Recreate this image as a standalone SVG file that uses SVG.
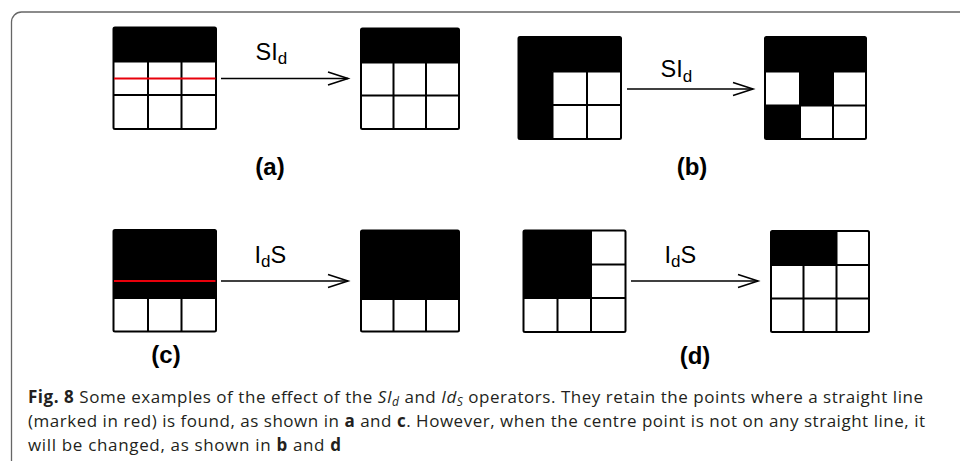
<svg xmlns="http://www.w3.org/2000/svg" width="960" height="461" viewBox="0 0 960 461">
<defs>
<style>
.frame{fill:none;stroke:#666;stroke-width:1.3}
.cell{fill:#000}
.grid{fill:none;stroke:#000;stroke-width:2}
.outer{fill:none;stroke:#000;stroke-width:2}
.red{stroke:#e8000b;stroke-width:2}
.conn{stroke:#000;stroke-width:1.6;fill:none}
.op{font-family:"Liberation Sans",Arial,sans-serif;font-size:23.5px;fill:#000}
.sub{font-size:17px}
.plab{font-family:"Liberation Sans",Arial,sans-serif;font-size:24px;font-weight:bold;fill:#000;text-anchor:middle}
.cap{font-family:"Open Sans","Noto Sans",sans-serif;font-size:17px;fill:#231f20}
.b{font-weight:bold}
.i{font-style:italic}
</style>
<marker id="chev" markerUnits="userSpaceOnUse" markerWidth="24" markerHeight="18" refX="21" refY="8" orient="auto">
<path d="M1,1.5 L21,8 L1,14.5" fill="none" stroke="#000" stroke-width="1.6"/>
</marker>
</defs>
<rect width="960" height="461" fill="#fff"/>
<path class="frame" d="M11.5 461 V22 A10 10 0 0 1 21.5 12 H960"/>

<g id="a-left">
<rect class="cell" x="113.5" y="27.5" width="102.5" height="34"/>
<path class="grid" d="M148 27.5 V129 M181.5 27.5 V129 M113.5 61.5 H216 M113.5 95 H216"/>
<rect class="outer" x="113.5" y="27.5" width="102.5" height="101.5" rx="1.5"/>
<line class="red" x1="114" y1="78.5" x2="215.5" y2="78.5"/>
</g>
<g id="a-right">
<rect class="cell" x="361" y="28.5" width="98" height="34"/>
<path class="grid" d="M393.5 28.5 V129 M426 28.5 V129 M361 62.5 H459 M361 95.5 H459"/>
<rect class="outer" x="361" y="28.5" width="98" height="100.5" rx="1.5"/>
</g>
<g id="b-left">
<rect class="cell" x="518.5" y="37" width="102.5" height="34.5"/>
<rect class="cell" x="518.5" y="37" width="34" height="102"/>
<path class="grid" d="M552.5 71.5 V139 M587 71.5 V139 M552.5 71.5 H621 M552.5 105 H621"/>
<rect class="outer" x="518.5" y="37" width="102.5" height="102" rx="1.5"/>
</g>
<g id="b-right">
<rect class="cell" x="765" y="37" width="101" height="34.5"/>
<rect class="cell" x="800" y="71.5" width="33" height="34"/>
<rect class="cell" x="765" y="105.5" width="35" height="33.5"/>
<path class="grid" d="M800 71.5 V139 M833 71.5 V139 M765 71.5 H866 M765 105.5 H866"/>
<rect class="outer" x="765" y="37" width="101" height="102" rx="1.5"/>
</g>
<g id="c-left">
<rect class="cell" x="113.5" y="230" width="102.5" height="68"/>
<path class="grid" d="M148 298 V331.5 M181.5 298 V331.5 M113.5 298 H216"/>
<rect class="outer" x="113.5" y="230" width="102.5" height="101.5" rx="1.5"/>
<line class="red" x1="114" y1="281" x2="215.5" y2="281"/>
</g>
<g id="c-right">
<rect class="cell" x="361" y="230.5" width="98" height="68.5"/>
<path class="grid" d="M393.5 299 V331.5 M426 299 V331.5 M361 299 H459"/>
<rect class="outer" x="361" y="230.5" width="98" height="101" rx="1.5"/>
</g>
<g id="d-left">
<rect class="cell" x="523.5" y="230.5" width="67.5" height="67.5"/>
<path class="grid" d="M557.5 298 V332 M591 230.5 V332 M591 264.5 H625.5 M523.5 298 H625.5"/>
<rect class="outer" x="523.5" y="230.5" width="102" height="101.5" rx="1.5"/>
</g>
<g id="d-right">
<rect class="cell" x="771" y="231" width="65.5" height="34"/>
<path class="grid" d="M803.5 265 V332 M836.5 231 V332 M771 265 H869 M771 298.5 H869"/>
<rect class="outer" x="771" y="231" width="98" height="101" rx="1.5"/>
</g>

<g id="connectors">
<line class="conn" x1="221" y1="78.5" x2="348" y2="78.5" marker-end="url(#chev)"/>
<line class="conn" x1="627" y1="89" x2="753" y2="89" marker-end="url(#chev)"/>
<line class="conn" x1="221" y1="281" x2="348" y2="281" marker-end="url(#chev)"/>
<line class="conn" x1="631" y1="281" x2="758" y2="281" marker-end="url(#chev)"/>
</g>

<g id="labels">
<text class="op" x="255.5" y="59.5">SI<tspan class="sub" dy="4.5">d</tspan></text>
<text class="op" x="660.5" y="77">SI<tspan class="sub" dy="4.5">d</tspan></text>
<text class="op" x="254.5" y="262.5">I<tspan class="sub" dy="4.5">d</tspan><tspan dy="-4.5">S</tspan></text>
<text class="op" x="664.5" y="262.5">I<tspan class="sub" dy="4.5">d</tspan><tspan dy="-4.5">S</tspan></text>
<text class="plab" x="270" y="175">(a)</text>
<text class="plab" x="692" y="175">(b)</text>
<text class="plab" x="166" y="363">(c)</text>
<text class="plab" x="695" y="364">(d)</text>
</g>

<g id="caption">
<text class="cap" x="28" y="403" textLength="895" lengthAdjust="spacing"><tspan class="b">Fig. 8</tspan>  Some examples of the effect of the <tspan class="i">SI</tspan><tspan class="i" font-size="12" dy="3">d</tspan><tspan dy="-3"> and </tspan><tspan class="i">Id</tspan><tspan class="i" font-size="12" dy="3">S</tspan><tspan dy="-3"> operators. They retain the points where a straight line</tspan></text>
<text class="cap" x="28" y="427" textLength="897" lengthAdjust="spacing">(marked in red) is found, as shown in <tspan class="b">a</tspan> and <tspan class="b">c</tspan>. However, when the centre point is not on any straight line, it</text>
<text class="cap" x="28" y="451" textLength="313" lengthAdjust="spacing">will be changed, as shown in <tspan class="b">b</tspan> and <tspan class="b">d</tspan></text>
</g>
</svg>
